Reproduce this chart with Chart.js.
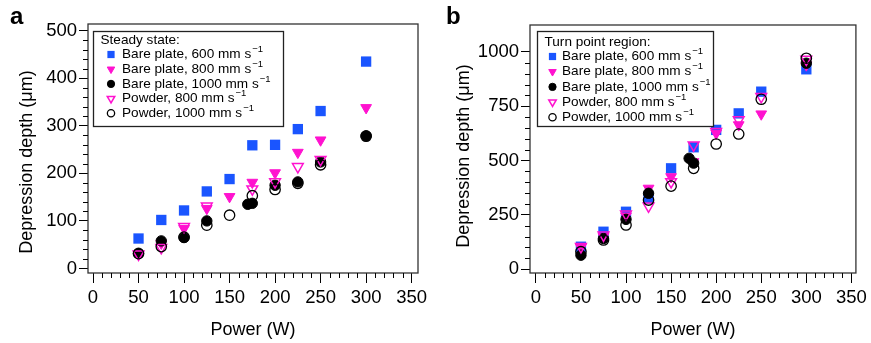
<!DOCTYPE html>
<html>
<head>
<meta charset="utf-8">
<script src="https://cdn.jsdelivr.net/npm/chart.js@4.4.1/dist/chart.umd.min.js"></script>
<style>
  body { margin: 0; background: #fff; }
  #wrap { position: relative; width: 871px; height: 343px; }
  canvas { position: absolute; top: 0; }
</style>
</head>
<body>
<div id="wrap">
  <canvas id="chartA" width="435" height="343" style="left:0"></canvas>
  <canvas id="chartB" width="436" height="343" style="left:435px"></canvas>
</div>
<script>
// ---- axes ----
var xTicks = [0, 50, 100, 150, 200, 250, 300, 350];
var yTicksA = [0, 100, 200, 300, 400, 500];
var yTicksB = [0, 250, 500, 750, 1000];

var seriesNames = ['Bare plate, 600 mm s', 'Bare plate, 800 mm s', 'Bare plate, 1000 mm s', 'Powder, 800 mm s', 'Powder, 1000 mm s'];

// ---- data (panel a: steady state) ----
var aBare600X = [50, 75, 100, 125, 150, 175, 200, 225, 250, 300];
var aBare600Y = [63, 102, 122, 162, 188, 259, 260, 293, 331, 435];
var aBare800X = [50, 75, 100, 125, 150, 175, 200, 225, 250, 300];
var aBare800Y = [30, 53, 84, 126, 151, 181, 201, 244, 270, 338];
var aBare1000X = [50, 75, 100, 125, 170, 175, 200, 225, 250, 300];
var aBare1000Y = [32, 58, 65, 100, 135, 137, 175, 182, 224, 279];
var aPow800X = [50, 75, 100, 125, 175, 200, 225, 250];
var aPow800Y = [30, 44, 88, 131, 167, 182, 214, 229];
var aPow1000X = [50, 75, 100, 125, 150, 175, 200, 225, 250, 300];
var aPow1000Y = [31, 46, 66, 91, 112, 153, 166, 179, 218, 278];

// ---- data (panel b: turn point region) ----
var bBare600X = [50, 75, 100, 125, 150, 175, 200, 225, 250, 300];
var bBare600Y = [103, 172, 264, 326, 464, 561, 641, 717, 817, 920];
var bBare800X = [50, 75, 100, 125, 150, 175, 200, 225, 250, 300];
var bBare800Y = [100, 149, 244, 372, 425, 494, 625, 664, 714, 940];
var bBare1000X = [50, 75, 100, 125, 170, 175, 300];
var bBare1000Y = [64, 141, 229, 349, 510, 488, 948];
var bPow800X = [50, 75, 100, 125, 150, 175, 200, 225, 250, 300];
var bPow800Y = [103, 156, 253, 290, 402, 571, 633, 687, 794, 966];
var bPow1000X = [50, 75, 100, 125, 150, 175, 200, 225, 250, 300];
var bPow1000Y = [80, 134, 203, 318, 382, 464, 576, 622, 782, 971];

var BLUE = '#1a55ff';
var PINK = '#ff12cf';
var FONT = '"Liberation Sans", Arial, sans-serif';

function pts(xs, ys) {
  return xs.map(function(x, i) { return {x: x, y: ys[i]}; });
}

// marker style per series
var styles = [
  {pointStyle: 'rect', radius: 7.3, rotation: 0, fill: BLUE, stroke: BLUE, borderWidth: 0},
  {pointStyle: 'triangle', radius: 6.2, rotation: 180, fill: PINK, stroke: PINK, borderWidth: 1},
  {pointStyle: 'circle', radius: 5.2, rotation: 0, fill: '#000', stroke: '#000', borderWidth: 1},
  {pointStyle: 'triangle', radius: 6.2, rotation: 180, fill: 'rgba(0,0,0,0)', stroke: PINK, borderWidth: 1.5},
  {pointStyle: 'circle', radius: 5.2, rotation: 0, fill: 'rgba(0,0,0,0)', stroke: '#000', borderWidth: 1.3}
];

function makeDatasets(list) {
  return list.map(function(d, i) {
    var s = styles[i];
    return {
      label: seriesNames[i],
      data: d,
      showLine: false,
      order: 5 - i,
      pointStyle: s.pointStyle,
      pointRadius: s.radius,
      pointRotation: s.rotation,
      pointBackgroundColor: s.fill,
      pointBorderColor: s.stroke,
      pointBorderWidth: s.borderWidth
    };
  });
}

// frame, minor ticks, legend box, axis titles, panel letter
var decor = {
  id: 'decor',
  afterDraw: function(chart) {
    var o = chart.options.plugins.decor;
    var ctx = chart.ctx, a = chart.chartArea;
    var xs = chart.scales.x, ys = chart.scales.y;
    ctx.save();
    // frame
    ctx.strokeStyle = '#333';
    ctx.lineWidth = 1.3;
    ctx.strokeRect(a.left, a.top, a.right - a.left, a.bottom - a.top);
    // minor ticks
    ctx.strokeStyle = '#000';
    ctx.lineWidth = 1;
    ctx.beginPath();
    for (var v = 0; v <= 350; v += 10) {
      if (v % 50 === 0) continue;
      var px = Math.round(xs.getPixelForValue(v)) + 0.5;
      ctx.moveTo(px, a.bottom); ctx.lineTo(px, a.bottom + 5);
    }
    for (var w = 0; w <= o.yMax; w += o.yMinor) {
      if (w % o.yMajor === 0) continue;
      var py = Math.round(ys.getPixelForValue(w)) + 0.5;
      ctx.moveTo(a.left, py); ctx.lineTo(a.left - 5, py);
    }
    ctx.stroke();

    // legend
    var L = o.legend;
    ctx.fillStyle = '#fff';
    ctx.fillRect(L.x, L.y, L.w, L.h);
    ctx.strokeStyle = '#222';
    ctx.lineWidth = 1.3;
    ctx.strokeRect(L.x, L.y, L.w, L.h);
    ctx.fillStyle = '#000';
    ctx.font = '13.6px ' + FONT;
    ctx.textBaseline = 'middle';
    ctx.textAlign = 'left';
    ctx.fillText(L.title, L.x + 7, L.titleY);
    for (var i = 0; i < 5; i++) {
      var s = styles[i];
      var ry = L.rowY + i * L.rowGap;
      ctx.fillStyle = s.fill;
      ctx.strokeStyle = s.stroke;
      ctx.lineWidth = s.borderWidth;
      Chart.helpers.drawPoint(ctx, {pointStyle: s.pointStyle, radius: s.radius * 0.7, rotation: s.rotation, borderWidth: s.borderWidth}, L.markX, ry);
      ctx.fillStyle = '#000';
      ctx.font = '13.6px ' + FONT;
      ctx.fillText(seriesNames[i], L.textX, ry);
      var tw = ctx.measureText(seriesNames[i]).width;
      ctx.font = '9.5px ' + FONT;
      ctx.fillText('\u22121', L.textX + tw + 1, ry - 5);
    }

    // axis titles
    ctx.fillStyle = '#000';
    ctx.font = '18px ' + FONT;
    ctx.textAlign = 'center';
    ctx.fillText('Power (W)', (a.left + a.right) / 2, 330);
    ctx.save();
    ctx.translate(o.yTitleX, o.yTitleY);
    ctx.rotate(-Math.PI / 2);
    ctx.fillText('Depression depth (\u03bcm)', 0, 0);
    ctx.restore();

    // panel letter
    ctx.font = 'bold 24px ' + FONT;
    ctx.textAlign = 'left';
    ctx.fillText(o.letter, o.letterX, 17);
    ctx.restore();
  }
};

function makePanel(id, datasets, yMin, yMax, yTicks, xMin, xMax, layout, extra) {
  var tickFont = {family: FONT, size: 18.5};
  return new Chart(document.getElementById(id), {
    type: 'scatter',
    data: {datasets: datasets},
    options: {
      responsive: false,
      animation: false,
      events: [],
      layout: {padding: {top: layout.top, right: layout.right, left: 0, bottom: 0}},
      scales: {
        x: {
          type: 'linear', min: xMin, max: xMax,
          afterBuildTicks: function(s) { s.ticks = xTicks.map(function(v) { return {value: v}; }); },
          afterFit: function(s) { s.height = 343 - layout.bottom; },
          grid: {drawOnChartArea: false, tickLength: 10, tickColor: '#000', tickWidth: 1},
          border: {display: false},
          ticks: {font: tickFont, color: '#000', padding: 4, maxRotation: 0, autoSkip: false,
                  callback: function(v) { return String(v); }}
        },
        y: {
          type: 'linear', min: yMin, max: yMax,
          afterBuildTicks: function(s) { s.ticks = yTicks.map(function(v) { return {value: v}; }); },
          afterFit: function(s) { s.width = layout.left; },
          grid: {drawOnChartArea: false, tickLength: 9, tickColor: '#000', tickWidth: 1},
          border: {display: false},
          ticks: {font: tickFont, color: '#000', padding: 2, autoSkip: false,
                  callback: function(v) { return String(v); }}
        }
      },
      plugins: {
        legend: {display: false},
        tooltip: {enabled: false},
        decor: extra
      }
    },
    plugins: [decor]
  });
}

makePanel('chartA', makeDatasets([
  pts(aBare600X, aBare600Y), pts(aBare800X, aBare800Y), pts(aBare1000X, aBare1000Y),
  pts(aPow800X, aPow800Y), pts(aPow1000X, aPow1000Y)
]), -9.5, 514, yTicksA, -5.5, 357,
  {left: 88, top: 24, right: 17, bottom: 273},
  {yMax: 500, yMinor: 20, yMajor: 100, yTitleX: 27, yTitleY: 162, letter: 'a', letterX: 10,
   legend: {x: 93.5, y: 31.5, w: 190, h: 95, title: 'Steady state:', titleY: 40, rowY: 54.5, rowGap: 14.7, markX: 111, textX: 122}});

makePanel('chartB', makeDatasets([
  pts(bBare600X, bBare600Y), pts(bBare800X, bBare800Y), pts(bBare1000X, bBare1000Y),
  pts(bPow800X, bPow800Y), pts(bPow1000X, bPow1000Y)
]), -18, 1124, yTicksB, -6.5, 355,
  {left: 95, top: 25, right: 12, bottom: 273},
  {yMax: 1000, yMinor: 50, yMajor: 250, yTitleX: 29, yTitleY: 156, letter: 'b', letterX: 11,
   legend: {x: 102.5, y: 31.5, w: 176, h: 95, title: 'Turn point region:', titleY: 42, rowY: 56.5, rowGap: 15.2, markX: 117.5, textX: 127}});
</script>
</body>
</html>
